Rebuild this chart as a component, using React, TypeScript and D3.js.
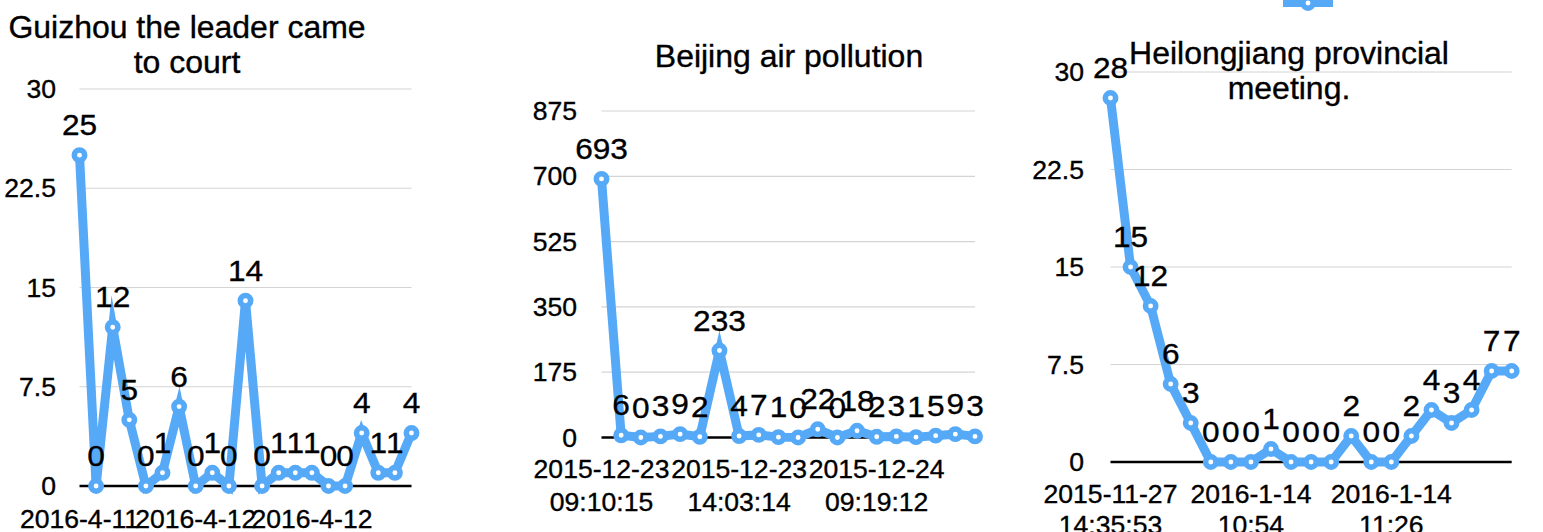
import React from "react";
import * as d3 from "d3";

// ---------- data ----------
const guizhouTitle = ["Guizhou the leader came", "to court"];
const guizhouValues = [25, 0, 12, 5, 0, 1, 6, 0, 1, 0, 14, 0, 1, 1, 1, 0, 0, 4, 1, 1, 4];
const guizhouYTicks = [0, 7.5, 15, 22.5, 30];
const guizhouTickIndex = [0, 7, 14];
const guizhouTickLabels = [["2016-4-11"], ["2016-4-12"], ["2016-4-12"]];

const beijingTitle = ["Beijing air pollution"];
const beijingValues = [693, 6, 0, 3, 9, 2, 233, 4, 7, 1, 0, 22, 0, 18, 2, 3, 1, 5, 9, 3];
const beijingYTicks = [0, 175, 350, 525, 700, 875];
const beijingTickIndex = [0, 7, 14];
const beijingTickLabels = [
  ["2015-12-23", "09:10:15"],
  ["2015-12-23", "14:03:14"],
  ["2015-12-24", "09:19:12"],
];

const heilongjiangTitle = ["Heilongjiang provincial", "meeting."];
const heilongjiangValues = [28, 15, 12, 6, 3, 0, 0, 0, 1, 0, 0, 0, 2, 0, 0, 2, 4, 3, 4, 7, 7];
const heilongjiangYTicks = [0, 7.5, 15, 22.5, 30];
const heilongjiangTickIndex = [0, 7, 14];
const heilongjiangTickLabels = [
  ["2015-11-27", "14:35:53"],
  ["2016-1-14", "10:54"],
  ["2016-1-14", "11:26"],
];

// ---------- style / layout ----------
const SX = 1.05;
const K = 1.13 / SX;
const FONT = "'Liberation Sans', Arial, Helvetica, sans-serif";
const BLUE = "#56a9f7";
const GRID = "#d4d4d4";

type Layout = {
  x0: number; x1: number; y0: number; y1: number;
  yLabelX: number; titleX: number; titleY: number[]; xLabelY: number[];
};

type ChartCfg = {
  title: string[]; values: number[]; yTicks: number[];
  tickIndex: number[]; tickLabels: string[][]; layout: Layout;
};

const charts: ChartCfg[] = [
  {
    title: guizhouTitle, values: guizhouValues, yTicks: guizhouYTicks,
    tickIndex: guizhouTickIndex, tickLabels: guizhouTickLabels,
    layout: { x0: 79.5, x1: 411.5, y0: 486, y1: 89, yLabelX: 56, titleX: 187, titleY: [37.5, 73], xLabelY: [527.5] },
  },
  {
    title: beijingTitle, values: beijingValues, yTicks: beijingYTicks,
    tickIndex: beijingTickIndex, tickLabels: beijingTickLabels,
    layout: { x0: 601.5, x1: 975, y0: 437.5, y1: 111, yLabelX: 577, titleX: 789, titleY: [66.5], xLabelY: [478, 510.5] },
  },
  {
    title: heilongjiangTitle, values: heilongjiangValues, yTicks: heilongjiangYTicks,
    tickIndex: heilongjiangTickIndex, tickLabels: heilongjiangTickLabels,
    layout: { x0: 1110.5, x1: 1511.7, y0: 462, y1: 72, yLabelX: 1084, titleX: 1289, titleY: [64, 99], xLabelY: [503, 534] },
  },
];

function SText(props: {
  x: number; y: number; size: number; anchor?: string; dy?: string; children: React.ReactNode;
}) {
  const { x, y, size, anchor = "middle", dy, children } = props;
  return (
    <text
      transform={`translate(${x},${y}) scale(${SX},1)`}
      textAnchor={anchor}
      fontSize={size * K}
      fontFamily={FONT}
      fill="#000"
      stroke="#000"
      strokeWidth={0.35}
      dy={dy}
    >
      {children}
    </text>
  );
}

function Chart({ cfg }: { cfg: ChartCfg }) {
  const L = cfg.layout;
  const idx = cfg.values.map((_, i) => i);
  const x = d3.scalePoint<number>().domain(idx).range([L.x0, L.x1]).padding(0);
  const yMax = cfg.yTicks[cfg.yTicks.length - 1];
  const y = d3.scaleLinear().domain([0, yMax]).range([L.y0, L.y1]);
  const line = d3
    .line<number>()
    .x((_, i) => x(i) as number)
    .y((d) => y(d));

  return (
    <g>
      {cfg.yTicks.map((t) =>
        t === 0 ? null : (
          <line key={"g" + t} x1={L.x0} x2={L.x1} y1={y(t)} y2={y(t)} stroke={GRID} strokeWidth={1.2} />
        )
      )}
      <line x1={L.x0} x2={L.x1} y1={y(0)} y2={y(0)} stroke="#000" strokeWidth={2.4} />
      {cfg.yTicks.map((t) => (
        <SText key={"yl" + t} x={L.yLabelX} y={y(t)} size={23.5} anchor="end" dy="0.36em">
          {String(t)}
        </SText>
      ))}
      {cfg.tickIndex.map((ti, k) =>
        cfg.tickLabels[k].map((s, j) => (
          <SText key={"xl" + k + "-" + j} x={x(ti) as number} y={L.xLabelY[j]} size={23.5}>
            {s}
          </SText>
        ))
      )}
      {cfg.title.map((s, j) => (
        <SText key={"t" + j} x={L.titleX} y={L.titleY[j]} size={28.3}>
          {s}
        </SText>
      ))}
      <path
        d={line(cfg.values) || ""}
        fill="none"
        stroke={BLUE}
        strokeWidth={9}
        strokeLinejoin="miter"
        strokeMiterlimit={9}
      />
      {cfg.values.map((v, i) => (
        <circle key={"m" + i} cx={x(i) as number} cy={y(v)} r={5.2} fill="#fff" stroke={BLUE} strokeWidth={5.5} />
      ))}
      {cfg.values.map((v, i) => (
        <SText key={"dl" + i} x={x(i) as number} y={y(v) - 20} size={28}>
          {String(v)}
        </SText>
      ))}
    </g>
  );
}

export default function App() {
  return (
    <svg
      width={1543}
      height={532}
      style={{ position: "absolute", left: 0, top: 0, background: "#fff" }}
    >
      <rect x={0} y={0} width={1543} height={532} fill="#fff" />
      {charts.map((c, i) => (
        <Chart key={i} cfg={c} />
      ))}
      <g>
        <rect x={1283} y={-6} width={50} height={13} fill={BLUE} />
        <circle cx={1308} cy={3} r={5.2} fill="#fff" stroke={BLUE} strokeWidth={5.5} />
      </g>
    </svg>
  );
}
